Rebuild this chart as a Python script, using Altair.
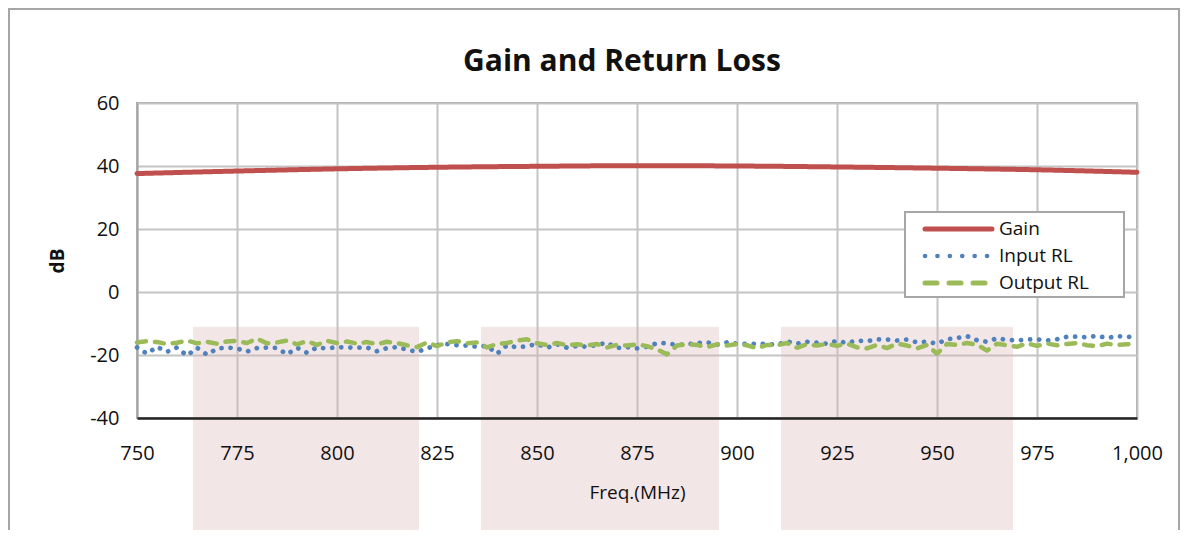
import altair as alt
import pandas as pd

# ---- data ----
gain_freq = [750, 775, 800, 825, 850, 875, 900, 925, 950, 975, 1000]
gain_db = [37.6, 38.4, 39.1, 39.6, 39.9, 40.1, 40.0, 39.7, 39.3, 38.8, 38.0]

rl_freq = [750 + 2.5 * i for i in range(101)]
input_rl = [
    -17.6, -19.6, -17.4, -19.0, -17.6, -20.2, -17.7, -19.9, -18.0, -17.6,
    -17.9, -18.9, -17.8, -17.6, -17.8, -19.8, -17.7, -19.3, -17.6, -17.9,
    -17.5, -17.6, -17.7, -17.6, -18.8, -17.8, -17.5, -18.3, -19.0, -17.9,
    -16.8, -16.5, -16.9, -17.0, -17.4, -17.1, -19.6, -16.9, -17.6, -17.2,
    -16.5, -17.7, -16.6, -17.7, -17.1, -17.4, -16.8, -16.1, -17.8, -17.5,
    -17.9, -17.4, -16.2, -16.3, -16.8, -16.6, -16.2, -16.0, -16.7, -16.0,
    -16.4, -16.5, -16.4, -16.5, -16.7, -15.7, -16.4, -15.8, -16.1, -16.4,
    -15.5, -16.2, -15.4, -15.6, -15.0, -15.1, -15.4, -15.1, -16.0, -15.8,
    -16.4, -15.0, -14.6, -14.0, -15.3, -15.8, -14.7, -15.2, -15.4, -15.1,
    -15.0, -15.4, -15.0, -14.2, -14.2, -14.4, -13.9, -14.6, -14.0, -14.3,
    -14.0,
]
output_rl = [
    -16.0, -15.6, -15.9, -16.5, -16.1, -15.4, -16.3, -15.8, -16.4, -15.7,
    -15.5, -16.2, -14.8, -16.3, -16.0, -15.4, -16.6, -15.6, -16.8, -15.5,
    -16.2, -15.7, -16.4, -15.9, -16.6, -15.8, -16.2, -16.9, -17.5, -16.0,
    -17.2, -16.0, -15.6, -16.3, -16.0, -17.6, -16.5, -16.2, -15.4, -15.0,
    -16.3, -16.8, -16.2, -16.9, -16.6, -17.0, -16.5, -17.6, -16.8, -17.0,
    -16.6, -17.2, -18.2, -19.8, -17.0, -16.5, -16.8, -17.5, -16.6, -17.0,
    -16.5, -16.9, -17.8, -16.8, -16.9, -16.2, -17.7, -16.6, -17.0, -16.5,
    -17.1, -16.4, -17.6, -17.9, -16.8, -17.8, -16.4, -17.0, -17.9, -16.8,
    -19.6, -16.5, -16.8, -16.2, -16.7, -18.6, -16.4, -16.9, -17.4, -16.3,
    -17.1, -16.4, -16.9, -16.5, -16.2, -16.9, -17.2, -16.4, -16.8, -16.6,
    -16.5,
]

series_names = ["Gain", "Input RL", "Output RL"]
series_colors = ["#C0504D", "#4F81BD", "#9BBB59"]
series_dash = [[1, 0], [0.1, 9], [9, 9]]
series_width = [5, 4.5, 5]

band_start = [764.0, 836.0, 911.0]
band_end = [820.5, 895.5, 969.0]
band_top = [-11.0, -11.0, -11.0]
band_bottom = [-80.0, -80.0, -80.0]

x_ticks = [750, 775, 800, 825, 850, 875, 900, 925, 950, 975, 1000]
y_ticks = [-40, -20, 0, 20, 40, 60]

chart_title = "Gain and Return Loss"
x_title = "Freq.(MHz)"
y_title = "dB"

FONT = "Open Sans"
TEXT = "#111111"

gain_df = pd.DataFrame({"freq": gain_freq, "db": gain_db, "series": "Gain"})
rl_df = pd.concat([
    pd.DataFrame({"freq": rl_freq, "db": input_rl, "series": "Input RL"}),
    pd.DataFrame({"freq": rl_freq, "db": output_rl, "series": "Output RL"}),
])
band_df = pd.DataFrame({"x1": band_start, "x2": band_end, "y1": band_top, "y2": band_bottom})
one = pd.DataFrame({"a": [0]})

x_scale = alt.Scale(domain=[750, 1000], nice=False, zero=False)
y_scale = alt.Scale(domain=[-40, 60], nice=False, zero=False)

# x axis split: labels/domain drawn above the pink bands, grid drawn below the lines
x_axis_labels = alt.Axis(values=x_ticks, format=",.0f", title=x_title, ticks=False,
                         labelFlush=False, labelPadding=25, titlePadding=20,
                         domainColor="#262626", domainWidth=2.5, grid=False,
                         titleFontWeight="normal", orient="bottom", zindex=1)
x_axis_grid = alt.Axis(values=x_ticks, title=None, ticks=False, labels=False, domain=False,
                       grid=True, gridColor="#C4C4C4", gridWidth=2, orient="bottom", zindex=0)
y_axis = alt.Axis(values=y_ticks, title=y_title, ticks=False, labelPadding=18,
                  labelExpr="datum.value < 0 ? '-' + abs(datum.value) : '' + datum.value",
                  titlePadding=22, titleFontWeight="bold", domainColor="#A6A6A6",
                  domainWidth=2, gridColor="#C4C4C4", gridWidth=2, zindex=0)

color_enc = alt.Color("series:N", scale=alt.Scale(domain=series_names, range=series_colors),
                      legend=None)
dash_enc = alt.StrokeDash("series:N", scale=alt.Scale(domain=series_names, range=series_dash),
                          legend=None)
width_enc = alt.StrokeWidth("series:N", scale=alt.Scale(domain=series_names, range=series_width),
                            legend=None)

# outer chart frame (decoration)
frame = alt.Chart(one).mark_rect(
    fillOpacity=0, stroke="#A6A6A6", strokeWidth=2, clip=False
).encode(x=alt.value(-128), x2=alt.value(1042), y=alt.value(-94), y2=alt.value(700))

title_mark = alt.Chart(one).mark_text(
    text=chart_title, font=FONT, fontSize=30, fontWeight="bold", color=TEXT,
    align="center", baseline="alphabetic", clip=False
).encode(x=alt.value(485), y=alt.value(-32))

bands = alt.Chart(band_df).mark_rect(color="#DDB8B8", opacity=0.35, clip=False).encode(
    x=alt.X("x1:Q", scale=x_scale, axis=x_axis_labels),
    x2="x2:Q",
    y=alt.Y("y1:Q", scale=y_scale, axis=y_axis),
    y2="y2:Q",
)

rl_lines = alt.Chart(rl_df).mark_line(strokeCap="round", strokeJoin="round").encode(
    x=alt.X("freq:Q", scale=x_scale, axis=x_axis_grid),
    y=alt.Y("db:Q", scale=y_scale, axis=y_axis),
    color=color_enc, strokeDash=dash_enc, strokeWidth=width_enc,
    order="freq:Q",
)

gain_line = alt.Chart(gain_df).mark_line(interpolate="monotone", strokeCap="round").encode(
    x=alt.X("freq:Q", scale=x_scale, axis=None),
    y=alt.Y("db:Q", scale=y_scale, axis=y_axis),
    color=color_enc, strokeDash=dash_enc, strokeWidth=width_enc,
)

# legend box drawn inside the plot, as in the reference
legend_layers = [
    alt.Chart(one).mark_rect(fill="white", stroke="#A6A6A6", strokeWidth=2).encode(
        x=alt.value(768), x2=alt.value(987), y=alt.value(109), y2=alt.value(194)
    )
]
row_y = [126, 153, 180]
legend_dash = [[1, 0], [0.1, 12.3], [12, 12]]
for name, col, dash, w, ry in zip(series_names, series_colors, legend_dash, series_width, row_y):
    legend_layers.append(
        alt.Chart(one).mark_rule(color=col, strokeDash=dash, strokeWidth=w, strokeCap="round").encode(
            x=alt.value(788), x2=alt.value(855), y=alt.value(ry)
        )
    )
    legend_layers.append(
        alt.Chart(one).mark_text(text=name, font=FONT, fontSize=19, color=TEXT,
                                 align="left", baseline="middle").encode(
            x=alt.value(862), y=alt.value(ry)
        )
    )

chart = alt.layer(frame, title_mark, bands, rl_lines, gain_line, *legend_layers).resolve_axis(
    x="independent"
).properties(
    width=1000, height=315,
    padding={"left": 129, "top": 95, "right": 44, "bottom": 112},
    autosize=alt.AutoSizeParams(type="none"),
    background="white",
).configure_view(stroke="#A6A6A6", strokeWidth=2).configure_axis(
    labelFont=FONT, titleFont=FONT, labelFontSize=20, titleFontSize=19,
    labelColor=TEXT, titleColor=TEXT,
)

chart.save("out.html", embed_options={"renderer": "svg", "actions": False})
